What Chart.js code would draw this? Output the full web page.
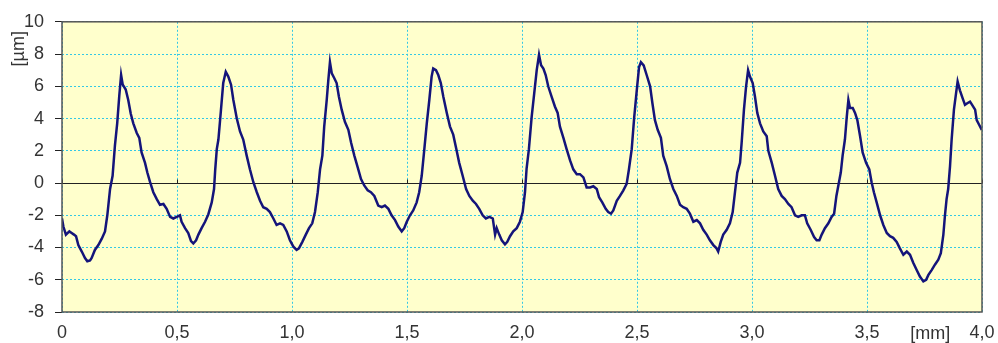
<!DOCTYPE html>
<html>
<head>
<meta charset="utf-8">
<script src="https://cdn.jsdelivr.net/npm/chart.js@4/dist/chart.umd.min.js"></script>
<style>
  html, body { margin: 0; padding: 0; background: #fff; }
  #wrap { width: 998px; height: 343px; }
</style>
</head>
<body>
<div id="wrap"><canvas id="perfil" width="998" height="343"></canvas></div>
<script>
// posiciones [mm] del perfil
const profileX = [
  0.000, 0.006, 0.017, 0.032, 0.042, 0.052, 0.061, 0.071, 0.086, 0.100,
  0.110, 0.122, 0.129, 0.143, 0.158, 0.173, 0.187, 0.197, 0.209, 0.220,
  0.230, 0.240, 0.249, 0.257, 0.264, 0.277, 0.288, 0.299, 0.310, 0.325,
  0.336, 0.346, 0.361, 0.371, 0.383, 0.397, 0.412, 0.426, 0.441, 0.455,
  0.470, 0.484, 0.499, 0.513, 0.520, 0.535, 0.549, 0.561, 0.571, 0.583,
  0.593, 0.607, 0.622, 0.636, 0.651, 0.661, 0.666, 0.673, 0.680, 0.691,
  0.701, 0.712, 0.723, 0.735, 0.745, 0.760, 0.774, 0.788, 0.803, 0.817,
  0.832, 0.847, 0.861, 0.875, 0.890, 0.904, 0.919, 0.933, 0.948, 0.962,
  0.977, 0.991, 1.006, 1.020, 1.030, 1.045, 1.060, 1.074, 1.088, 1.100,
  1.112, 1.122, 1.132, 1.140, 1.151, 1.158, 1.165, 1.173, 1.184, 1.194,
  1.204, 1.216, 1.230, 1.245, 1.257, 1.271, 1.286, 1.300, 1.314, 1.329,
  1.343, 1.358, 1.375, 1.390, 1.404, 1.419, 1.433, 1.448, 1.462, 1.477,
  1.488, 1.499, 1.513, 1.527, 1.542, 1.553, 1.564, 1.574, 1.586, 1.597,
  1.607, 1.614, 1.626, 1.636, 1.647, 1.658, 1.673, 1.687, 1.701, 1.713,
  1.727, 1.742, 1.757, 1.771, 1.786, 1.800, 1.814, 1.829, 1.843, 1.858,
  1.873, 1.883, 1.890, 1.901, 1.912, 1.926, 1.936, 1.948, 1.962, 1.977,
  1.991, 2.003, 2.013, 2.020, 2.030, 2.042, 2.053, 2.064, 2.074, 2.083,
  2.093, 2.103, 2.114, 2.129, 2.143, 2.155, 2.165, 2.180, 2.194, 2.209,
  2.223, 2.238, 2.252, 2.267, 2.281, 2.296, 2.310, 2.325, 2.335, 2.349,
  2.364, 2.375, 2.387, 2.397, 2.412, 2.426, 2.440, 2.455, 2.465, 2.477,
  2.488, 2.499, 2.509, 2.517, 2.529, 2.542, 2.557, 2.567, 2.578, 2.590,
  2.604, 2.614, 2.629, 2.643, 2.658, 2.673, 2.687, 2.701, 2.716, 2.730,
  2.745, 2.760, 2.774, 2.788, 2.803, 2.817, 2.832, 2.846, 2.853, 2.864,
  2.875, 2.890, 2.904, 2.916, 2.926, 2.936, 2.948, 2.955, 2.965, 2.974,
  2.983, 2.991, 3.003, 3.013, 3.023, 3.035, 3.049, 3.064, 3.071, 3.086,
  3.100, 3.114, 3.129, 3.143, 3.158, 3.172, 3.187, 3.201, 3.216, 3.230,
  3.240, 3.255, 3.270, 3.281, 3.293, 3.303, 3.317, 3.332, 3.346, 3.357,
  3.367, 3.386, 3.394, 3.404, 3.412, 3.419, 3.426, 3.438, 3.448, 3.458,
  3.470, 3.481, 3.496, 3.510, 3.520, 3.530, 3.542, 3.557, 3.571, 3.586,
  3.600, 3.614, 3.629, 3.643, 3.658, 3.673, 3.687, 3.701, 3.716, 3.730,
  3.745, 3.757, 3.767, 3.781, 3.796, 3.810, 3.821, 3.832, 3.839, 3.846,
  3.853, 3.861, 3.868, 3.878, 3.887, 3.894, 3.904, 3.916, 3.926, 3.936,
  3.948, 3.957, 3.970, 3.977, 3.988, 3.999
];

// alturas [µm] del perfil
const profileY = [
  -2.2, -2.7, -3.2, -3.0, -3.1, -3.2, -3.3, -3.85, -4.25, -4.65,
  -4.85, -4.8, -4.65, -4.15, -3.85, -3.45, -3.0, -2.0, -0.37, 0.45,
  2.3, 3.7, 5.4, 6.7, 6.1, 5.8, 5.15, 4.3, 3.7, 3.1,
  2.8, 1.9, 1.25, 0.65, 0.05, -0.57, -1.0, -1.35, -1.3, -1.6,
  -2.1, -2.2, -2.1, -2.0, -2.4, -2.8, -3.1, -3.6, -3.75, -3.55,
  -3.2, -2.8, -2.4, -1.95, -1.2, -0.37, 0.8, 2.1, 2.7, 4.5,
  6.2, 6.9, 6.6, 6.1, 5.15, 4.0, 3.2, 2.7, 1.7, 0.85,
  0.05, -0.57, -1.1, -1.5, -1.6, -1.8, -2.2, -2.6, -2.5, -2.6,
  -3.0, -3.55, -3.95, -4.15, -4.05, -3.65, -3.2, -2.8, -2.5, -1.8,
  -0.57, 0.85, 1.7, 3.5, 5.15, 6.4, 7.5, 6.8, 6.5, 6.2,
  5.35, 4.55, 3.8, 3.3, 2.5, 1.7, 0.95, 0.25, -0.15, -0.45,
  -0.57, -0.8, -1.4, -1.5, -1.4, -1.6, -2.0, -2.3, -2.7, -3.0,
  -2.8, -2.4, -2.0, -1.7, -1.2, -0.57, 0.45, 1.9, 3.7, 5.15,
  6.6, 7.1, 7.0, 6.7, 6.2, 5.35, 4.35, 3.5, 3.0, 2.2,
  1.25, 0.45, -0.37, -0.8, -1.1, -1.3, -1.6, -2.0, -2.2, -2.1,
  -2.2, -3.2, -2.8, -3.2, -3.55, -3.8, -3.65, -3.3, -3.0, -2.8,
  -2.4, -1.8, -0.57, 0.9, 2.1, 4.1, 5.55, 7.0, 7.95, 7.3,
  7.1, 6.7, 6.0, 5.35, 4.75, 4.35, 3.5, 2.8, 2.1, 1.4,
  0.85, 0.55, 0.55, 0.35, -0.27, -0.27, -0.2, -0.37, -0.88, -1.2,
  -1.6, -1.8, -1.9, -1.7, -1.1, -0.8, -0.47, -0.05, 0.85, 2.1,
  4.1, 5.75, 7.2, 7.5, 7.3, 6.7, 6.0, 4.95, 3.9, 3.3,
  2.8, 1.7, 1.05, 0.25, -0.37, -0.8, -1.35, -1.5, -1.6, -1.9,
  -2.4, -2.3, -2.5, -2.9, -3.2, -3.55, -3.85, -4.05, -4.25, -3.65,
  -3.2, -2.9, -2.5, -1.8, -0.57, 0.65, 1.25, 2.5, 4.55, 5.95,
  7.0, 6.6, 6.2, 5.35, 4.35, 3.7, 3.2, 2.9, 2.0, 1.25,
  0.45, -0.37, -0.8, -1.0, -1.3, -1.5, -2.0, -2.1, -2.0, -2.0,
  -2.5, -2.9, -3.35, -3.55, -3.55, -3.2, -2.8, -2.5, -2.1, -1.9,
  -0.8, 0.65, 1.7, 2.7, 4.1, 5.15, 4.65, 4.65, 4.35, 3.9,
  2.9, 1.9, 1.25, 0.85, 0.05, -0.57, -1.2, -2.0, -2.6, -3.1,
  -3.3, -3.4, -3.65, -4.05, -4.45, -4.25, -4.45, -4.95, -5.4, -5.8,
  -6.1, -6.0, -5.7, -5.4, -5.05, -4.75, -4.35, -3.2, -2.0, -1.0,
  -0.37, 1.05, 2.7, 4.55, 5.55, 6.3, 5.75, 5.25, 4.85, 4.95,
  5.05, 4.85, 4.55, 3.9, 3.6, 3.3
];

// etiquetas de los ejes
const xTickLabels = ['0', '0,5', '1,0', '1,5', '2,0', '2,5', '3,0', '3,5', '4,0'];
const yTickLabels = ['-8', '-6', '-4', '-2', '0', '2', '4', '6', '8', '10'];
const xUnit = '[mm]';
const yUnit = '[µm]';

const FUENTE = { family: "'Liberation Sans', Arial, sans-serif", size: 18 };
const GRIS_TEXTO = '#333';
const CIAN = '#33c8e6';

// fondo amarillo, línea cero, marco y unidades
const decoracion = {
    id: 'decoracion',
    beforeDraw(chart) {
        const { ctx, chartArea: a } = chart;
        ctx.save();
        ctx.fillStyle = '#ffffcc';
        ctx.fillRect(a.left, a.top, a.right - a.left, a.bottom - a.top);
        ctx.restore();
    },
    beforeDatasetsDraw(chart) {
        const { ctx, chartArea: a, scales } = chart;
        const y0 = Math.round(scales.y.getPixelForValue(0)) + 0.5;
        ctx.save();
        ctx.strokeStyle = '#222';
        ctx.lineWidth = 1;
        ctx.beginPath();
        ctx.moveTo(a.left, y0);
        ctx.lineTo(a.right, y0);
        // pequeñas marcas sobre la línea cero
        scales.x.ticks.forEach(t => {
            const px = Math.round(scales.x.getPixelForValue(t.value)) + 0.5;
            ctx.moveTo(px, y0);
            ctx.lineTo(px, y0 - 4);
        });
        ctx.stroke();
        ctx.restore();
    },
    afterDatasetsDraw(chart) {
        const { ctx, chartArea: a, scales } = chart;
        ctx.save();
        ctx.strokeStyle = '#555';
        ctx.lineWidth = 1.5;
        ctx.strokeRect(a.left, a.top, a.right - a.left, a.bottom - a.top);

        ctx.fillStyle = GRIS_TEXTO;
        ctx.font = `${FUENTE.size}px ${FUENTE.family}`;
        ctx.textAlign = 'center';
        ctx.textBaseline = 'middle';
        ctx.fillText(xUnit, scales.x.getPixelForValue(3.775), a.bottom + 22);

        ctx.translate(19, a.top + 27);
        ctx.rotate(-Math.PI / 2);
        ctx.fillText(yUnit, 0, 0);
        ctx.restore();
    }
};

const puntos = profileX.map((x, i) => ({ x: x, y: profileY[i] }));

new Chart(document.getElementById('perfil'), {
    type: 'line',
    data: {
        datasets: [{
            data: puntos,
            borderColor: '#14147a',
            borderWidth: 2.5,
            pointRadius: 0,
            tension: 0,
            fill: false
        }]
    },
    options: {
        responsive: false,
        animation: false,
        layout: { padding: { left: 0, right: 16, top: 19, bottom: 0 } },
        plugins: { legend: { display: false }, tooltip: { enabled: false } },
        scales: {
            x: {
                type: 'linear',
                min: 0,
                max: 4,
                afterFit(scale) {
                    scale.height = 31;
                    scale.paddingLeft = 0;
                    scale.paddingRight = 0;
                },
                ticks: {
                    stepSize: 0.5,
                    color: GRIS_TEXTO,
                    font: FUENTE,
                    padding: 10,
                    maxRotation: 0,
                    callback: (v, i) => xTickLabels[i]
                },
                grid: { color: CIAN, lineWidth: 1, drawTicks: false },
                border: { display: false, dash: [2, 2] }
            },
            y: {
                min: -8,
                max: 10,
                afterFit(scale) { scale.width = 62; },
                ticks: {
                    stepSize: 2,
                    color: GRIS_TEXTO,
                    font: FUENTE,
                    padding: 11,
                    callback: (v, i) => yTickLabels[i]
                },
                grid: {
                    color: CIAN,
                    lineWidth: 1,
                    tickLength: 7,
                    tickColor: '#222',
                    tickBorderDash: []
                },
                border: { display: false, dash: [2, 2] }
            }
        }
    },
    plugins: [decoracion]
});
</script>
</body>
</html>
